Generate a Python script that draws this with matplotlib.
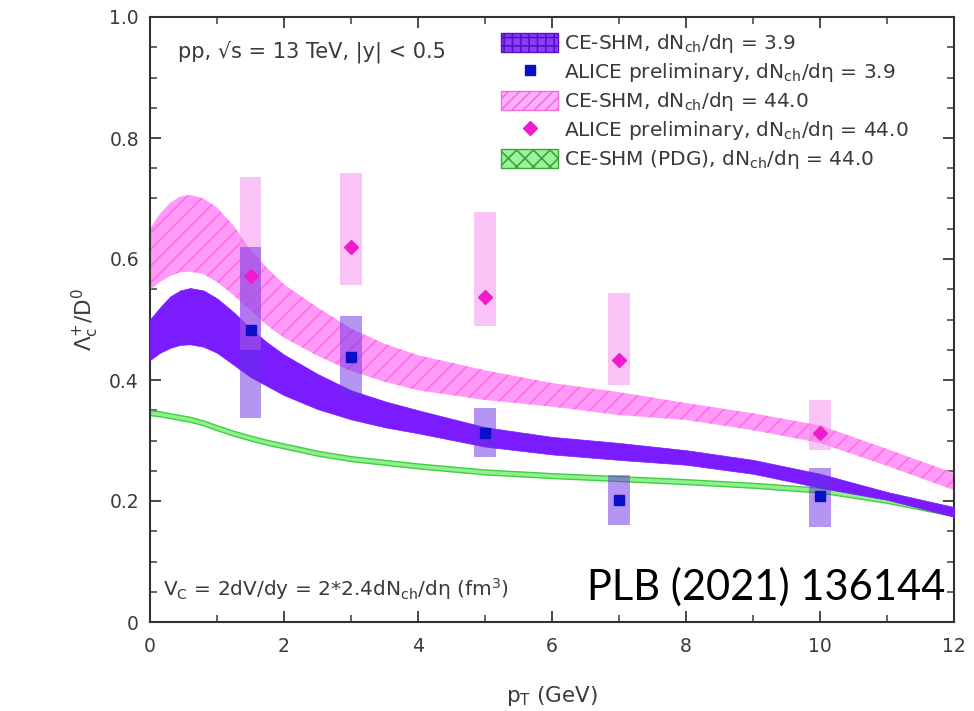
import matplotlib
matplotlib.use("Agg")
import matplotlib.pyplot as plt
from matplotlib.patches import Patch
from matplotlib.lines import Line2D

plt.rcParams['font.family'] = ['DejaVu Sans']
plt.rcParams['mathtext.fontset'] = 'dejavusans'
plt.rcParams['hatch.linewidth'] = 1.2

# ---- model bands (CE-SHM) ----
x_band = [0, 0.15, 0.3, 0.45, 0.6, 0.8, 1.0, 1.25, 1.5, 1.75, 2, 2.5, 3, 3.5, 4, 5, 6, 7, 8, 9, 10, 11, 12]
purple_hi = [0.50, 0.52, 0.538, 0.548, 0.552, 0.548, 0.535, 0.512, 0.485, 0.462, 0.442, 0.41, 0.383, 0.365, 0.35,
             0.322, 0.306, 0.296, 0.284, 0.268, 0.245, 0.215, 0.19]
purple_lo = [0.433, 0.445, 0.453, 0.458, 0.459, 0.455, 0.445, 0.425, 0.405, 0.39, 0.375, 0.352, 0.335, 0.322, 0.312,
             0.29, 0.277, 0.268, 0.26, 0.245, 0.222, 0.202, 0.174]
pink_hi = [0.65, 0.675, 0.693, 0.703, 0.706, 0.70, 0.685, 0.655, 0.615, 0.585, 0.558, 0.52, 0.485, 0.46, 0.441,
           0.416, 0.395, 0.38, 0.362, 0.345, 0.325, 0.286, 0.246]
pink_lo = [0.549, 0.562, 0.572, 0.578, 0.579, 0.575, 0.562, 0.54, 0.515, 0.49, 0.47, 0.44, 0.415, 0.397, 0.383,
           0.367, 0.356, 0.342, 0.334, 0.317, 0.296, 0.258, 0.218]
green_hi = [0.35, 0.348, 0.345, 0.342, 0.339, 0.333, 0.325, 0.316, 0.308, 0.301, 0.295, 0.283, 0.274, 0.268, 0.262,
            0.252, 0.246, 0.241, 0.236, 0.23, 0.222, 0.205, 0.182]
green_lo = [0.342, 0.340, 0.337, 0.334, 0.331, 0.325, 0.317, 0.308, 0.300, 0.293, 0.287, 0.275, 0.266, 0.260, 0.254,
            0.244, 0.238, 0.233, 0.228, 0.222, 0.214, 0.197, 0.175]

# ---- ALICE preliminary data ----
pt_data = [1.5, 3, 5, 7, 10]
low_val = [0.482, 0.438, 0.313, 0.202, 0.208]
low_sys_lo = [0.337, 0.372, 0.273, 0.160, 0.157]
low_sys_hi = [0.620, 0.505, 0.354, 0.243, 0.255]
high_val = [0.572, 0.620, 0.537, 0.433, 0.312]
high_sys_lo = [0.450, 0.557, 0.489, 0.392, 0.284]
high_sys_hi = [0.736, 0.742, 0.678, 0.544, 0.367]

fig = plt.figure(figsize=(9.74, 7.11), dpi=100)
ax = fig.add_axes([150/974, 89/711, 804/974, 605/711])

purple = '#7a1cff'
pink_face = '#ff9af8'
pink_hatch = '#ff6ee8'
green_face = '#8ff08f'
green_edge = '#44cc44'
txt = '#3a3a3a'

ax.fill_between(x_band, green_lo, green_hi, facecolor=green_face, edgecolor=green_edge, lw=1.0, zorder=2)
ax.fill_between(x_band, pink_lo, pink_hi, facecolor=pink_face, edgecolor=pink_hatch, hatch='//', lw=0, zorder=2)
ax.fill_between(x_band, purple_lo, purple_hi, facecolor=purple, edgecolor=purple, lw=0.5, zorder=3)

# systematic boxes
hh = [h - l for h, l in zip(high_sys_hi, high_sys_lo)]
lh = [h - l for h, l in zip(low_sys_hi, low_sys_lo)]
ax.bar(pt_data, hh, bottom=high_sys_lo, width=0.32, color='#f58aec', alpha=0.5, lw=0, zorder=4)
ax.bar(pt_data, lh, bottom=low_sys_lo, width=0.32, color='#6a2ee6', alpha=0.5, lw=0, zorder=4)

ax.plot(pt_data, low_val, 's', color='#0a10c8', ms=7, zorder=6)
ax.plot(pt_data, high_val, 'D', color='#ee1ccc', ms=7, zorder=6)

ax.set_xlim(0, 12)
ax.set_ylim(0, 1.0)
ax.set_xticks([0, 2, 4, 6, 8, 10, 12])
ax.set_xticks([1, 3, 5, 7, 9, 11], minor=True)
ax.set_yticks([0, 0.2, 0.4, 0.6, 0.8, 1.0])
ax.set_yticklabels(['0', '0.2', '0.4', '0.6', '0.8', '1.0'])
ax.set_yticks([0.05 * i for i in range(21)], minor=True)
ax.tick_params(which='both', direction='in', top=True, right=True, colors=txt, labelsize=13.5)
ax.tick_params(axis='x', pad=11)
ax.tick_params(axis='y', pad=8)
ax.tick_params(which='major', length=8, width=1.3)
ax.tick_params(which='minor', length=5, width=1.1)
for s in ax.spines.values():
    s.set_linewidth(1.5)
    s.set_color('#333333')

ax.set_xlabel('p$_\\mathrm{T}$ (GeV)', fontsize=15.5, color=txt, labelpad=20)
ax.set_ylabel('$\\Lambda_\\mathrm{c}^{+}$/D$^0$', fontsize=15.5, color=txt, labelpad=6)

ax.text(0.42, 0.942, 'pp, \u221As = 13 TeV, |y| < 0.5', fontsize=15, color=txt, va='center')
ax.text(0.2, 0.055, 'V$_\\mathrm{C}$ = 2dV/dy = 2*2.4dN$_\\mathrm{ch}$/d\u03b7 (fm$^3$)', fontsize=14.5,
        color=txt, va='center')
ax.text(6.52, 0.057, 'PLB (2021) 136144', fontsize=30, color='black', va='center',
        family=['Lato', 'Liberation Sans', 'DejaVu Sans'])

handles = [
    Patch(facecolor='#8a3cff', edgecolor='#5a10c0', hatch='++', lw=1),
    Line2D([], [], marker='s', ls='none', color='#0a10c8', ms=7),
    Patch(facecolor='#ffb0fa', edgecolor='#f070e0', hatch='///', lw=1),
    Line2D([], [], marker='D', ls='none', color='#ee1ccc', ms=7),
    Patch(facecolor='#9ff09f', edgecolor='#33aa33', hatch='xx', lw=1),
]
labels = [
    'CE-SHM, dN$_\\mathrm{ch}$/d\u03b7 = 3.9',
    'ALICE preliminary, dN$_\\mathrm{ch}$/d\u03b7 = 3.9',
    'CE-SHM, dN$_\\mathrm{ch}$/d\u03b7 = 44.0',
    'ALICE preliminary, dN$_\\mathrm{ch}$/d\u03b7 = 44.0',
    'CE-SHM (PDG), dN$_\\mathrm{ch}$/d\u03b7 = 44.0',
]
leg = ax.legend(handles, labels, loc='upper left', bbox_to_anchor=(0.437, 0.975), frameon=False,
                fontsize=14.5, handlelength=2.8, handleheight=1.1, handletextpad=0.3,
                labelspacing=0.3, borderpad=0, borderaxespad=0)
for t in leg.get_texts():
    t.set_color(txt)

fig.savefig('out.png', dpi=100)
